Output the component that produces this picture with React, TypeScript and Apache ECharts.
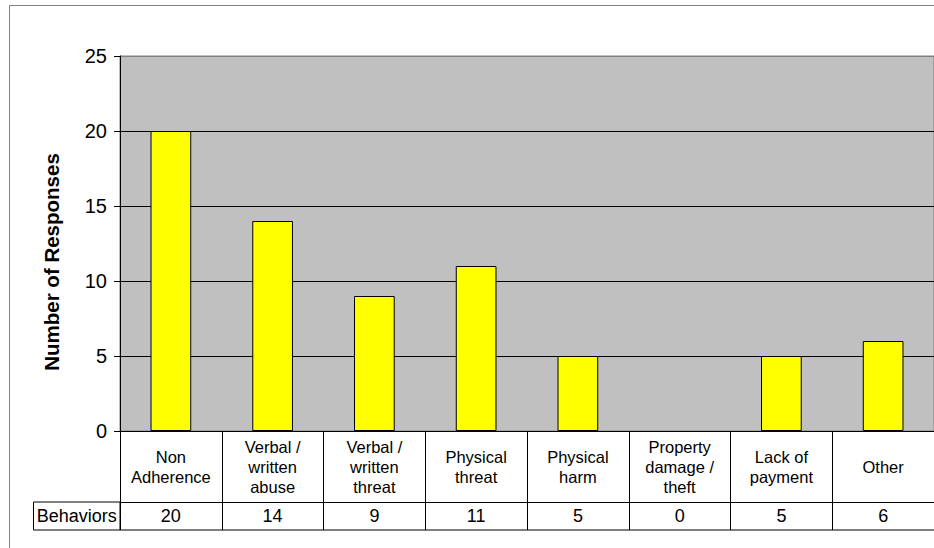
import React, { useEffect, useRef } from "react";
import * as echarts from "echarts";

const categories = [
  "Non\nAdherence",
  "Verbal /\nwritten\nabuse",
  "Verbal /\nwritten\nthreat",
  "Physical\nthreat",
  "Physical\nharm",
  "Property\ndamage /\ntheft",
  "Lack of\npayment",
  "Other",
];
const behaviors = [20, 14, 9, 11, 5, 0, 5, 6];
const seriesName = "Behaviors";
const yTitle = "Number of Responses";
const yMin = 0;
const yMax = 25;
const yStep = 5;

const FONT = "Arial, 'Liberation Sans', sans-serif";

export default function App() {
  const ref = useRef<HTMLDivElement>(null);
  useEffect(() => {
    if (!ref.current) return;
    const chart = echarts.init(ref.current, null, { renderer: "svg" });
    const gLeft = 120;
    const gTop = 56;
    const gWidth = 819;
    const gHeight = 375;
    const axisY = gTop + gHeight; // 431
    const row1 = 71;
    const row2 = 28;
    const splitColors = ["#000", "#000", "#000", "#000", "#000", "#808080"];
    chart.setOption({
      animation: false,
      backgroundColor: "#fff",
      textStyle: { fontFamily: FONT },
      grid: {
        left: gLeft,
        top: gTop,
        width: gWidth,
        height: gHeight,
        show: true,
        backgroundColor: "#c0c0c0",
        borderColor: "#808080",
        borderWidth: 1,
      },
      xAxis: [
        {
          type: "category",
          data: categories,
          position: "bottom",
          boundaryGap: true,
          axisLine: { show: true, lineStyle: { color: "#000", width: 1 } },
          axisTick: {
            show: true,
            length: row1 + row2,
            inside: false,
            lineStyle: { color: "#000", width: 1 },
          },
          axisLabel: {
            interval: 0,
            color: "#000",
            fontFamily: FONT,
            fontSize: 16.5,
            lineHeight: 20,
            verticalAlign: "middle",
            margin: row1 / 2,
          },
          splitLine: { show: false },
        },
        {
          type: "category",
          data: behaviors.map((v) => String(v)),
          position: "bottom",
          offset: row1,
          boundaryGap: true,
          axisLine: { show: true, lineStyle: { color: "#000", width: 1 } },
          axisTick: { show: false },
          axisLabel: {
            interval: 0,
            color: "#000",
            fontFamily: FONT,
            fontSize: 18,
            verticalAlign: "middle",
            margin: row2 / 2,
          },
          splitLine: { show: false },
        },
      ],
      yAxis: {
        type: "value",
        min: yMin,
        max: yMax,
        interval: yStep,
        axisLine: { show: true, lineStyle: { color: "#000", width: 1 } },
        axisTick: { show: true, length: 6, lineStyle: { color: "#000" } },
        axisLabel: { color: "#000", fontFamily: FONT, fontSize: 20, margin: 13 },
        splitLine: { show: true, lineStyle: { color: splitColors, width: 1 } },
      },
      series: [
        {
          name: seriesName,
          type: "bar",
          xAxisIndex: 0,
          data: behaviors.map((v) =>
            v === 0 ? { value: v, itemStyle: { borderWidth: 0 } } : v
          ),
          barWidth: "40%",
          itemStyle: { color: "#ffff00", borderColor: "#000", borderWidth: 1 },
        },
      ],
      graphic: [
        {
          type: "rect",
          shape: { x: 9.5, y: 5.5, width: 960, height: 600 },
          style: { fill: "none", stroke: "#808080", lineWidth: 1 },
          silent: true,
          z: 0,
        },
        {
          type: "rect",
          shape: { x: 33.5, y: axisY + row1, width: gLeft - 33.5, height: row2 },
          style: { fill: "#fff", stroke: "#000", lineWidth: 1 },
          z: 10,
        },
        {
          type: "text",
          x: (33.5 + gLeft) / 2,
          y: axisY + row1 + row2 / 2,
          style: {
            text: seriesName,
            fill: "#000",
            font: `18px ${FONT}`,
            align: "center",
            verticalAlign: "middle",
          },
          z: 11,
        },
        {
          type: "line",
          shape: { x1: gLeft, y1: axisY + row1 + row2, x2: gLeft + gWidth, y2: axisY + row1 + row2 },
          style: { stroke: "#000", lineWidth: 1 },
          z: 10,
        },
        {
          type: "text",
          x: 51,
          y: 262,
          rotation: Math.PI / 2,
          style: {
            text: yTitle,
            fill: "#000",
            font: `bold 20.5px ${FONT}`,
            align: "center",
            verticalAlign: "middle",
          },
          z: 11,
        },
      ],
    });
    return () => chart.dispose();
  }, []);
  return (
    <div
      ref={ref}
      style={{ position: "absolute", left: 0, top: 0, width: 934, height: 548 }}
    />
  );
}
